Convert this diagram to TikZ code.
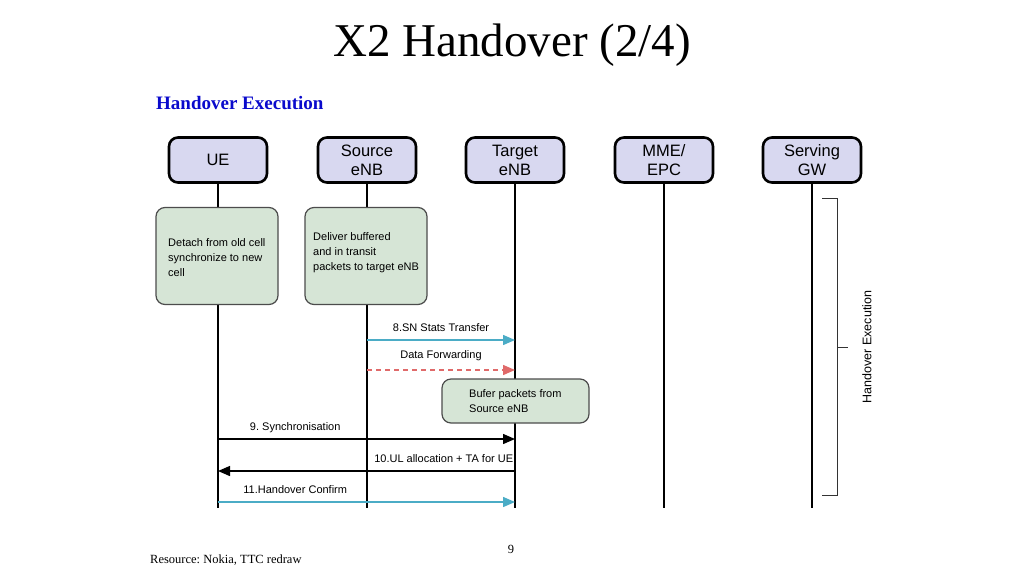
\documentclass[tikz,border=0pt]{standalone}
\usepackage{fontspec}
\setmainfont{Liberation Serif}
\newfontfamily\arialf{Liberation Sans}
\usetikzlibrary{arrows.meta}
\frenchspacing
\definecolor{hdrfill}{HTML}{D8D8F0}
\definecolor{grnfill}{HTML}{D6E5D6}
\definecolor{teal}{HTML}{4BACC6}
\definecolor{salmon}{HTML}{E06A6A}
\definecolor{titleblue}{HTML}{0A0ACC}
\tikzset{
  hdr/.style={draw=black, line width=2.6pt, fill=hdrfill, rounded corners=9pt,
    minimum width=98pt, minimum height=45pt, align=center,
    font=\arialf\fontsize{16.5}{19}\selectfont, inner sep=0pt},
  grn/.style={draw=black!70, line width=1.2pt, fill=grnfill, rounded corners=9pt},
  gtxt/.style={align=left, font=\arialf\fontsize{11}{15}\selectfont, inner sep=0pt, anchor=west},
  life/.style={line width=2.4pt, black},
  msg/.style={line width=1.4pt, -{Triangle[length=12pt,width=10pt]}},
  lbl/.style={font=\arialf\fontsize{11}{13}\selectfont, inner sep=0pt},
}
\begin{document}
\begin{tikzpicture}[x=1pt,y=-1pt]
\useasboundingbox[fill=white] (0,0) rectangle (1024,576);
\node[font=\fontsize{47}{50}\selectfont, inner sep=0pt] (title) at (512,45) {X2 Handover (2/4)};
\node[font=\bfseries\fontsize{19}{21}\selectfont, text=titleblue, anchor=west, inner sep=0pt] (sub) at (156,103) {Handover Execution};

\node[hdr] (ue)  at (218,160) {UE};
\node[hdr] (src) at (367,160) {Source\\eNB};
\node[hdr] (tgt) at (515,160) {Target\\eNB};
\node[hdr] (mme) at (664,160) {MME/\\EPC};
\node[hdr] (sgw) at (812,160) {Serving\\GW};

\coordinate (ueE)  at (218,508);
\coordinate (srcE) at (367,508);
\coordinate (tgtE) at (515,508);
\coordinate (mmeE) at (664,508);
\coordinate (sgwE) at (812,508);

\draw[life] (ue.south) -- (ueE);
\draw[life] (src.south) -- (srcE);
\draw[life] (tgt.south) -- (tgtE);
\draw[life] (mme.south) -- (mmeE);
\draw[life] (sgw.south) -- (sgwE);

\node[grn, minimum width=122pt, minimum height=97pt] (gue) at (217,256) {};
\node[gtxt] (tue) at (168,258) {Detach from old cell\\synchronize to new\\cell};
\node[grn, minimum width=122pt, minimum height=97pt] (gsrc) at (366,256) {};
\node[gtxt] (tsrc) at (313,253) {Deliver buffered\\and in transit\\packets to target eNB};

% messages
\coordinate (s8a) at (367,340); \coordinate (s8b) at (515,340);
\draw[msg, teal] (s8a) -- node[lbl, above=8pt, text=black] (l8) {8.SN Stats Transfer} (s8b);
\coordinate (dfa) at (367,370); \coordinate (dfb) at (515,370);
\draw[msg, salmon, dashed, dash pattern=on 5pt off 4pt] (dfa) -- node[lbl, above=9pt, text=black] (ldf) {Data Forwarding} (dfb);

\node[grn, minimum width=147pt, minimum height=44pt] (buf) at (515.5,401) {};
\node[gtxt] (tbuf) at (469,401) {Bufer packets from\\Source eNB};

\coordinate (s9a) at (218,439); \coordinate (s9b) at (515,439);
\draw[msg, black] (s9a) -- node[lbl, pos=0.26, above=6pt] (l9) {9. Synchronisation} (s9b);
\coordinate (s10a) at (515,471); \coordinate (s10b) at (218,471);
\draw[msg, black] (s10a) -- node[lbl, pos=0.24, above=8pt] (l10) {10.UL allocation + TA for UE} (s10b);
\coordinate (s11a) at (218,502); \coordinate (s11b) at (515,502);
\draw[msg, teal] (s11a) -- node[lbl, pos=0.26, above=8pt, text=black] (l11) {11.Handover Confirm} (s11b);

% bracket
\coordinate (bt) at (822,198); \coordinate (bb) at (822,495);
\draw[line width=1pt, black!80] (bt) -- (837,198) -- (837,495) -- (bb);
\coordinate (bm) at (837,347);
\draw[line width=1pt, black!80] (bm) -- ++(11,0);
\node[lbl, rotate=90, font=\arialf\fontsize{12.5}{14}\selectfont] (hx) at (867,347) {Handover Execution};

\node[font=\fontsize{12.5}{14}\selectfont, inner sep=0pt] (pg) at (511,549) {9};
\node[font=\fontsize{12.5}{14}\selectfont, anchor=west, inner sep=0pt] (res) at (150,560) {Resource: Nokia, TTC redraw};
\end{tikzpicture}
\end{document}
